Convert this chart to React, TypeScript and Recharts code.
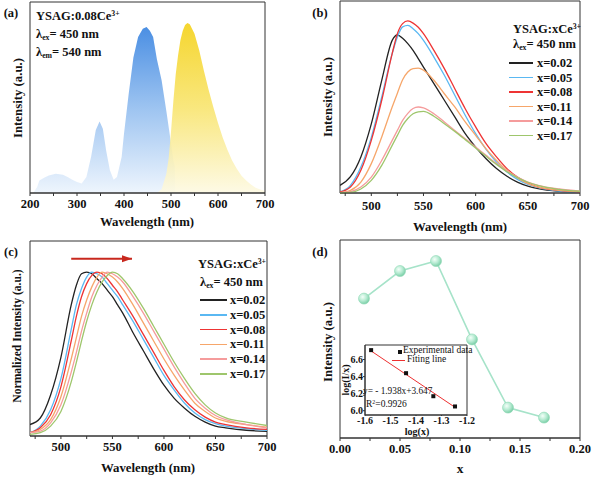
import React from "react";
import { AreaChart, Area, LineChart, Line, XAxis, YAxis, ReferenceArea } from "recharts";

const FONT = '"Liberation Serif", "Times New Roman", "DejaVu Serif", serif';
const INK = "#111";
const FRAME = "#333";

// (a) excitation / emission spectra of YSAG:0.08Ce3+
const EX_WL = [208, 215, 220, 230, 240, 255, 270, 280, 290, 300, 310, 320, 330, 340, 348, 355, 362, 370, 378, 385, 395, 400, 410, 420, 430, 440, 448, 455, 462, 470, 480, 490, 500, 505, 508, 509];
const EX_VAL = [0.5, 3, 6.6, 8, 9.2, 10.1, 9.5, 8.4, 7, 5.8, 5, 8.4, 19, 33, 37.5, 33.7, 22.3, 11.9, 7, 8.4, 18.8, 31, 52, 71, 81.7, 86, 86.9, 85, 81.7, 70, 59, 43, 26, 17, 14, 0];
const EM_WL = [470, 480, 490, 495, 500, 505, 510, 515, 520, 525, 530, 535, 540, 550, 560, 570, 580, 590, 600, 610, 620, 630, 640, 650, 660, 670, 680, 690, 700];
const EM_VAL = [0, 2, 10, 18, 32, 48, 62, 72, 80, 85, 88, 89, 88.3, 83.4, 74.7, 64, 54, 45, 36.6, 29, 22.7, 17, 12.7, 9, 6.6, 4.5, 2.8, 1.8, 1];
const A_TICKS = [200, 250, 300, 350, 400, 450, 500, 550, 600, 650, 700];

// (b) emission vs Ce content
const SERIES_NAMES = ["x=0.02", "x=0.05", "x=0.08", "x=0.11", "x=0.14", "x=0.17"];
const SERIES_COLORS = ["#222222", "#5ab8f2", "#ee3434", "#f6a66a", "#f59c9c", "#9ec66c"];
const B_WL = [470, 480, 490, 500, 510, 520, 525, 530, 535, 540, 545, 550, 560, 570, 580, 590, 600, 610, 620, 630, 640, 650, 660, 680, 700];
const B_X002 = [4, 8.5, 18.8, 36, 58.7, 79.5, 82.3, 80.6, 77.8, 74.3, 70, 65.6, 57, 48.3, 39.6, 30.9, 23.9, 17.8, 12.7, 8.7, 5.7, 3.6, 2.3, 0.9, 0.3];
const B_X005 = [0.5, 4, 13.5, 29, 50, 72.6, 81.3, 86.5, 87.3, 85.6, 83, 79.5, 70.8, 61.3, 50.9, 40.5, 30.9, 22.7, 16.1, 10.9, 7.1, 4.5, 2.8, 1, 0.3];
const B_X008 = [0.5, 3.1, 11.8, 27.4, 48.3, 72.6, 83, 88.2, 89.6, 88.5, 86.3, 83, 74.3, 64.8, 54.3, 43.9, 34.4, 25.7, 18.8, 12.7, 8.3, 5.2, 3.1, 1.4, 0.5];
const B_X011 = [0.2, 1.4, 5.7, 15.3, 29.2, 44.8, 52, 59, 63, 64.8, 65, 64, 58.7, 51.7, 44.8, 37, 30, 23, 17, 11.8, 7.8, 4.9, 3.1, 1.4, 0.7];
const B_X014 = [0.2, 0.7, 3.1, 8.3, 17, 27.4, 32.6, 37.8, 41.5, 44, 44.8, 44.3, 41.3, 37, 32.6, 28.3, 24, 19.6, 15.3, 11.5, 8.3, 5.7, 4, 2.1, 1];
const B_X017 = [0, 0.3, 2.1, 6.6, 14.4, 24.8, 30, 35.2, 38.8, 41.3, 42.3, 42.5, 40, 36.1, 32.1, 27.8, 23.4, 19.1, 14.9, 11.1, 8, 5.6, 3.8, 1.9, 0.9];
const BC_TICKS = [475, 500, 525, 550, 575, 600, 625, 650, 675, 700];

// (c) normalized emission
const C_WL = [470, 480, 490, 500, 510, 515, 520, 525, 530, 535, 540, 545, 550, 555, 560, 570, 580, 590, 600, 610, 620, 630, 640, 650, 660, 680, 700];
const C_X002 = [0.07, 0.11, 0.25, 0.48, 0.8, 0.92, 0.99, 1.0, 0.99, 0.96, 0.93, 0.89, 0.85, 0.8, 0.75, 0.63, 0.52, 0.41, 0.31, 0.23, 0.17, 0.12, 0.085, 0.06, 0.05, 0.035, 0.028];
const C_X005 = [0.02, 0.06, 0.16, 0.35, 0.65, 0.8, 0.9, 0.97, 1.0, 0.99, 0.97, 0.93, 0.89, 0.85, 0.8, 0.7, 0.59, 0.48, 0.37, 0.28, 0.2, 0.14, 0.1, 0.075, 0.06, 0.045, 0.034];
const C_X008 = [0.02, 0.05, 0.13, 0.3, 0.58, 0.73, 0.85, 0.93, 0.98, 1.0, 0.99, 0.96, 0.92, 0.88, 0.83, 0.73, 0.62, 0.51, 0.4, 0.3, 0.22, 0.16, 0.115, 0.085, 0.07, 0.05, 0.04];
const C_X011 = [0.02, 0.04, 0.1, 0.24, 0.47, 0.6, 0.73, 0.83, 0.91, 0.97, 1.0, 0.99, 0.97, 0.94, 0.9, 0.8, 0.69, 0.58, 0.47, 0.37, 0.28, 0.2, 0.15, 0.11, 0.09, 0.07, 0.054];
const C_X014 = [0.02, 0.03, 0.08, 0.19, 0.39, 0.51, 0.64, 0.75, 0.85, 0.92, 0.97, 1.0, 0.99, 0.97, 0.94, 0.85, 0.75, 0.64, 0.53, 0.42, 0.32, 0.23, 0.17, 0.125, 0.1, 0.07, 0.05];
const C_X017 = [0.01, 0.02, 0.06, 0.15, 0.33, 0.45, 0.58, 0.7, 0.8, 0.88, 0.94, 0.98, 1.0, 0.99, 0.96, 0.88, 0.78, 0.67, 0.56, 0.45, 0.35, 0.26, 0.19, 0.14, 0.11, 0.085, 0.064];
const ARROW_WL = [510, 569];
const ARROW_Y = [1.082, 1.082];

// (d) integrated intensity vs x, and log–log inset
const D_X = [0.02, 0.05, 0.08, 0.11, 0.14, 0.17];
const D_I = [69.7, 83.5, 88.5, 49.3, 15.2, 10.2];
const D_TICKS = [0, 0.025, 0.05, 0.075, 0.1, 0.125, 0.15, 0.175, 0.2];
const LOG_X = [-1.576, -1.439, -1.332, -1.247];
const LOG_IX = [6.71, 6.44, 6.17, 6.05];
const FIT_X = [-1.576, -1.247];
const FIT_Y = [6.7, 6.04];
const INSET_XT = [-1.6, -1.5, -1.4, -1.3, -1.2];
const INSET_YT = [6.0, 6.2, 6.4, 6.6];

const pairs = (xs: number[], ys: number[]) => xs.map((x, i) => ({ x, y: ys[i] }));
const table = (xs: number[], cols: number[][]) =>
  xs.map((x, i) => {
    const row: any = { x };
    cols.forEach((c, k) => (row["s" + k] = c[i]));
    return row;
  });

const B_ROWS = table(B_WL, [B_X002, B_X005, B_X008, B_X011, B_X014, B_X017]);
const C_ROWS = table(C_WL, [C_X002, C_X005, C_X008, C_X011, C_X014, C_X017]);

const majorTick = (isMajor: (v: number) => boolean, fmt: (v: number) => string, size = 12.5) =>
  (props: any) => {
    const { x, y, payload } = props;
    if (!isMajor(payload.value)) return <g />;
    return (
      <text x={x} y={y} dy="0.75em" textAnchor="middle" fontFamily={FONT} fontWeight="bold" fontSize={size} fill={INK}>
        {fmt(payload.value)}
      </text>
    );
  };

function T({ x, y, size = 12.8, rotate = false, align = "center", weight = 700, children }: any) {
  const tx = align === "center" ? "-50%" : "0";
  return (
    <div
      style={{
        position: "absolute",
        left: x,
        top: y,
        transform: `translate(${tx}, -50%)${rotate ? " rotate(-90deg)" : ""}`,
        whiteSpace: "nowrap",
        fontFamily: FONT,
        fontWeight: weight,
        fontSize: size,
        lineHeight: 1,
        color: INK,
      }}
    >
      {children}
    </div>
  );
}

const sup = { fontSize: "0.62em", verticalAlign: "0.55em" };
const sub = { fontSize: "0.62em", verticalAlign: "-0.3em" };

function SeriesLegend({ x, y, lineW, textX, step }: any) {
  return (
    <>
      {SERIES_NAMES.map((n, i) => (
        <React.Fragment key={n}>
          <div style={{ position: "absolute", left: x, top: y + i * step - 0.75, width: lineW, height: 1.5, background: SERIES_COLORS[i] }} />
          <T x={textX} y={y + i * step} align="left" size={12.5}>{n}</T>
        </React.Fragment>
      ))}
    </>
  );
}

function PanelA() {
  return (
    <AreaChart width={297} height={239} margin={{ top: 2, right: 32, bottom: 16, left: 30 }}>
      <defs>
        <linearGradient id="exGrad" x1="0" y1="0" x2="0" y2="1">
          <stop offset="0%" stopColor="#4b8fe3" />
          <stop offset="50%" stopColor="#9fc5f1" />
          <stop offset="100%" stopColor="#eef5fd" />
        </linearGradient>
        <linearGradient id="emGrad" x1="0" y1="0" x2="0" y2="1">
          <stop offset="0%" stopColor="#f4d012" />
          <stop offset="50%" stopColor="#f8e46c" />
          <stop offset="100%" stopColor="#fdf9e2" />
        </linearGradient>
      </defs>
      <XAxis type="number" dataKey="x" domain={[200, 700]} ticks={A_TICKS} interval={0} allowDataOverflow height={30}
        tickSize={3} tickMargin={3} stroke={FRAME} tick={majorTick((v) => v % 100 === 0, String)} />
      <YAxis hide type="number" domain={[0, 100]} />
      <Area data={pairs(EX_WL, EX_VAL)} dataKey="y" type="linear" stroke="none" fill="url(#exGrad)" fillOpacity={1} isAnimationActive={false} />
      <Area data={pairs(EM_WL, EM_VAL)} dataKey="y" type="linear" stroke="none" fill="url(#emGrad)" fillOpacity={0.88} isAnimationActive={false} />
      <ReferenceArea x1={200} x2={700} y1={0} y2={100} fill="none" stroke={FRAME} strokeWidth={1} />
    </AreaChart>
  );
}

function PanelB() {
  return (
    <LineChart width={297} height={239} data={B_ROWS} margin={{ top: 1, right: 14, bottom: 16, left: 43 }}>
      <XAxis type="number" dataKey="x" domain={[470, 700]} ticks={BC_TICKS} interval={0} allowDataOverflow height={30}
        tickSize={3} tickMargin={5} stroke={FRAME} tick={majorTick((v) => v % 50 === 0, String)} />
      <YAxis hide type="number" domain={[0, 100]} />
      {SERIES_COLORS.map((c, i) => (
        <Line key={i} dataKey={"s" + i} type="monotone" stroke={c} strokeWidth={1.3} dot={false} isAnimationActive={false} />
      ))}
      <ReferenceArea x1={470} x2={700} y1={0} y2={100} fill="none" stroke={FRAME} strokeWidth={1} />
    </LineChart>
  );
}

const arrowHead = (props: any) => {
  const { cx, cy, index } = props;
  if (index !== 1) return <g key={index} />;
  return <polygon key={index} points={`${cx},${cy} ${cx - 10},${cy - 3.5} ${cx - 10},${cy + 3.5}`} fill="#c8281e" />;
};

function PanelC() {
  return (
    <LineChart width={297} height={239} data={C_ROWS} margin={{ top: 2, right: 30, bottom: 12, left: 30 }}>
      <XAxis type="number" dataKey="x" domain={[470, 700]} ticks={BC_TICKS} interval={0} allowDataOverflow height={30}
        tickSize={3} tickMargin={3} stroke={FRAME} tick={majorTick((v) => v % 50 === 0, String)} />
      <YAxis hide type="number" domain={[0, 1.19]} />
      {SERIES_COLORS.map((c, i) => (
        <Line key={i} dataKey={"s" + i} type="monotone" stroke={c} strokeWidth={1.3} dot={false} isAnimationActive={false} />
      ))}
      <Line data={pairs(ARROW_WL, ARROW_Y)} dataKey="y" stroke="#c8281e" strokeWidth={2} dot={arrowHead} isAnimationActive={false} />
      <ReferenceArea x1={470} x2={700} y1={0} y2={1.19} fill="none" stroke={FRAME} strokeWidth={1} />
    </LineChart>
  );
}

const ball = (props: any) => {
  const { cx, cy, index } = props;
  return <circle key={index} cx={cx} cy={cy} r={5.5} fill="url(#ball)" stroke="#8fd8b6" strokeWidth={0.6} />;
};

function PanelD() {
  return (
    <LineChart width={297} height={239} data={pairs(D_X, D_I)} margin={{ top: 1, right: 14, bottom: 10, left: 43 }}>
      <defs>
        <radialGradient id="ball" cx="38%" cy="35%" r="65%">
          <stop offset="0%" stopColor="#f4fff9" />
          <stop offset="55%" stopColor="#b6ebd2" />
          <stop offset="100%" stopColor="#7ccfa8" />
        </radialGradient>
      </defs>
      <XAxis type="number" dataKey="x" domain={[0, 0.2]} ticks={D_TICKS} interval={0} allowDataOverflow height={30}
        tickSize={3} tickMargin={3} stroke={FRAME}
        tick={majorTick((v) => Math.round(v * 1000) % 50 === 0, (v) => v.toFixed(2))} />
      <YAxis hide type="number" domain={[0, 99]} />
      <Line dataKey="y" type="linear" stroke="#a6e3c9" strokeWidth={1.6} dot={ball} isAnimationActive={false} />
      <ReferenceArea x1={0} x2={0.2} y1={0} y2={99} fill="none" stroke={FRAME} strokeWidth={1} />
    </LineChart>
  );
}

const square = (props: any) => {
  const { cx, cy, index } = props;
  return <rect key={index} x={cx - 2} y={cy - 2} width={4} height={4} fill="#111" />;
};

function Inset() {
  return (
    <LineChart width={135} height={100} margin={{ top: 10, right: 13, bottom: 6, left: 0 }}>
      <XAxis type="number" dataKey="x" domain={[-1.6, -1.2]} ticks={INSET_XT} interval={0} allowDataOverflow height={14}
        tickSize={1} tickMargin={0} stroke={FRAME} tick={majorTick(() => true, (v) => v.toFixed(1), 10)} />
      <YAxis type="number" domain={[5.95, 6.77]} ticks={INSET_YT} interval={0} allowDataOverflow width={20}
        tickSize={2} tickMargin={0} stroke={FRAME}
        tick={{ fontFamily: FONT, fontWeight: "bold", fontSize: 10, fill: INK }} tickFormatter={(v: number) => v.toFixed(1)} />
      <ReferenceArea x1={-1.6} x2={-1.2} y1={5.95} y2={6.77} fill="#fff" fillOpacity={1} stroke={FRAME} strokeWidth={1} />
      <Line data={pairs(FIT_X, FIT_Y)} dataKey="y" stroke="#ee3030" strokeWidth={1} dot={false} isAnimationActive={false} />
      <Line data={pairs(LOG_X, LOG_IX)} dataKey="y" stroke="none" dot={square} isAnimationActive={false} />
    </LineChart>
  );
}

const at = (left: number, top: number) => ({ position: "absolute" as const, left, top });

export default function App() {
  return (
    <div style={{ position: "absolute", left: 0, top: 0, width: 594, height: 478, background: "#fff", overflow: "hidden" }}>
      <div style={at(0, 0)}><PanelA /></div>
      <div style={at(297, 0)}><PanelB /></div>
      <div style={at(0, 239)}><PanelC /></div>
      <div style={at(297, 239)}><PanelD /></div>
      <div style={at(345, 335)}><Inset /></div>

      {/* (a) */}
      <T x={11} y={13} size={12.5}>(a)</T>
      <T x={36} y={16} align="left" size={12.5}>YSAG:0.08Ce<span style={sup}>3+</span></T>
      <T x={36} y={35} align="left" size={12.5}>λ<span style={sub}>ex</span>= 450 nm</T>
      <T x={36} y={53} align="left" size={12.5}>λ<span style={sub}>em</span>= 540 nm</T>
      <T x={147} y={222}>Wavelength (nm)</T>
      <T x={18} y={98} rotate>Intensity (a.u.)</T>

      {/* (b) */}
      <T x={320} y={13} size={12.5}>(b)</T>
      <T x={513} y={29} align="left" size={12.5}>YSAG:xCe<span style={sup}>3+</span></T>
      <T x={513} y={45} align="left" size={12.5}>λ<span style={sub}>ex</span>= 450 nm</T>
      <SeriesLegend x={509} y={63} lineW={24} textX={537} step={14.5} />
      <T x={460} y={227}>Wavelength (nm)</T>
      <T x={328} y={97} rotate>Intensity (a.u.)</T>

      {/* (c) */}
      <T x={11} y={252} size={12.5}>(c)</T>
      <T x={198} y={264} align="left" size={12.5}>YSAG:xCe<span style={sup}>3+</span></T>
      <T x={200} y={283} align="left" size={12.5}>λ<span style={sub}>ex</span>= 450 nm</T>
      <SeriesLegend x={200} y={300} lineW={27} textX={230} step={14.8} />
      <T x={148} y={468}>Wavelength (nm)</T>
      <T x={18} y={336} rotate size={11.6}>Normalized Intensity (a.u.)</T>

      {/* (d) */}
      <T x={320} y={252} size={12.5}>(d)</T>
      <T x={460} y={469} size={13.5}>x</T>
      <T x={328} y={342} rotate>Intensity (a.u.)</T>
      <div style={{ ...at(397.5, 349.5), width: 4, height: 4, background: "#111" }} />
      <T x={403} y={351} align="left" size={9.5} weight={400}>Experimental data</T>
      <div style={{ ...at(392, 359.5), width: 13, height: 1, background: "#ee3030" }} />
      <T x={407} y={360} align="left" size={9.5} weight={400}>Fiting line</T>
      <T x={363} y={392} align="left" size={9.3} weight={400}>y= - 1.938x+3.647</T>
      <T x={366} y={405} align="left" size={9.5} weight={400}>R<span style={sup}>2</span>=0.9926</T>
      <T x={346} y={380} rotate size={10}>log(I/x)</T>
      <T x={417} y={432} size={10}>log(x)</T>
    </div>
  );
}
